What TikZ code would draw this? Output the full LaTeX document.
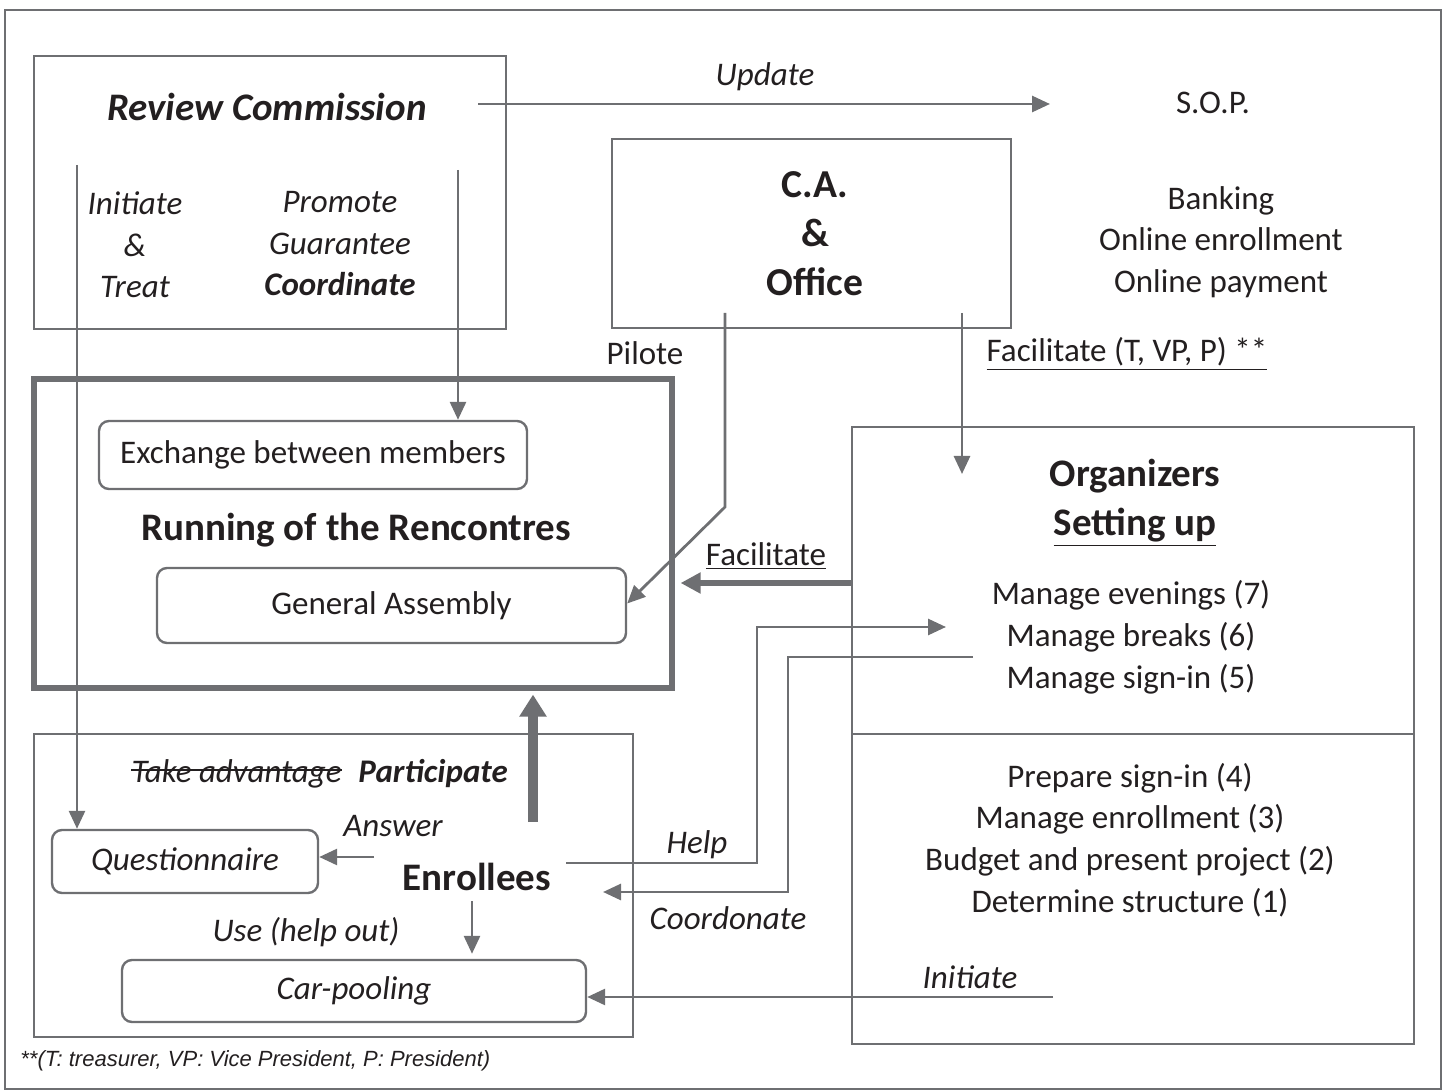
\documentclass[tikz,border=0pt]{standalone}
\usepackage{fontspec}
\setmainfont{Carlito}
\newfontfamily\notefont{Liberation Sans}
\usetikzlibrary{arrows.meta,positioning}
\definecolor{linegray}{RGB}{110,111,114}
\definecolor{inkblack}{RGB}{35,31,32}

\tikzset{
  frame/.style={draw=linegray, line width=1.2pt, inner sep=0pt},
  roundbox/.style={frame, rounded corners=5pt},
  txt/.style={text=inkblack, font=\fontsize{16.5}{20.75}\selectfont, align=center, inner sep=0pt},
  ittxt/.style={txt, font=\fontsize{16.5}{20.75}\selectfont\itshape},
  title/.style={txt, font=\fontsize{19.5}{24.5}\selectfont\bfseries},
  link/.style={draw=linegray, line width=1.4pt, -{Triangle[length=9pt,width=8pt]}},
  fatlink/.style={draw=linegray, line width=2.8pt, -{Triangle[length=10pt,width=10pt]}},
  uplink/.style={draw=linegray, line width=5pt, -{Triangle[length=11pt,width=13pt]}},
}

\begin{document}
\begin{tikzpicture}[x=0.5pt, y=-0.5pt]
\useasboundingbox (0,0) rectangle (1447,1091);

% frames
\node[frame, minimum width=718pt, minimum height=539.5pt] (outer) at (723,549.5) {};
\node[frame, minimum width=236pt, minimum height=136.5pt] (rc) at (270,192.5) {};
\node[frame, minimum width=199.5pt, minimum height=94.5pt] (ca) at (811.5,233.5) {};
\node[frame, line width=2.6pt, minimum width=319pt, minimum height=154.5pt] (run) at (353,533.5) {};
\node[frame, minimum width=281pt, minimum height=308.5pt] (org) at (1133,735.5) {};
\draw[linegray, line width=1.2pt] (org.west |- 0,734) -- (org.east |- 0,734);
\node[frame, minimum width=299.5pt, minimum height=151.5pt] (enr) at (333.5,885.5) {};

% review commission
\node[title, font=\fontsize{19.5}{21}\selectfont\bfseries\itshape] (rctitle) at (267,107) {Review Commission};
\node[ittxt] (treat) at (135,245) {Initiate\\\&\\Treat};
\node[ittxt] (promote) at (340,244) {Promote\\Guarantee\\\textbf{Coordinate}};

% top right
\node[ittxt] (update) at (765,77) {Update};
\node[txt] (sop) at (1213,103) {S.O.P.};
\node[title, font=\fontsize{19.8}{24.5}\selectfont\bfseries] (catitle) at (815,234) {C.A.\\\&\\Office};
\node[txt] (bank) at (1221,242) {Banking\\Online enrollment\\Online payment};
\node[txt] (pilote) at (645,353) {Pilote};
\node[txt] (facilT) at (1127,354) {\underline{Facilitate (T, VP, P) **}};

% running of the rencontres
\node[roundbox, txt, minimum width=214pt, minimum height=34pt] (exch) at (313,455) {Exchange between members};
\node[title] (runtitle) at (356,530) {Running of the Rencontres};
\node[roundbox, txt, minimum width=234.5pt, minimum height=37.5pt] (ga) at (391.5,605.5) {General Assembly};

% organizers
\node[title] (orgtitle) at (1135,503) {Organizers\\\underline{Setting up}};
\node[txt, font=\fontsize{16.5}{21}\selectfont] (manage) at (1131,637) {Manage evenings (7)\\Manage breaks (6)\\Manage sign-in (5)};
\node[txt, font=\fontsize{16.5}{20.9}\selectfont] (prep) at (1130,840) {Prepare sign-in (4)\\Manage enrollment (3)\\Budget and present project (2)\\Determine structure (1)};
\node[txt] (facil) at (766,556) {\underline{Facilitate}};

% enrollees
\node[ittxt, anchor=base east] (take) at (342,782) {Take advantage};
\draw[inkblack, line width=0.9pt] ([yshift=-5.5pt]take.north west) -- ([yshift=-5.5pt]take.north east);
\node[ittxt, anchor=base west, font=\fontsize{16.5}{20.75}\selectfont\bfseries\itshape] (part) at (358,782) {Participate};
\node[roundbox, ittxt, minimum width=133pt, minimum height=31.5pt] (quest) at (185,861.5) {Questionnaire};
\node[ittxt] (answer) at (393,826) {Answer};
\node[title] (enrol) at (477,877) {Enrollees};
\node[ittxt] (useho) at (306,932) {Use (help out)};
\node[roundbox, ittxt, minimum width=232pt, minimum height=31pt] (car) at (354,991) {Car-pooling};
\node[ittxt] (help) at (697,845) {Help};
\node[ittxt] (coord) at (728,918) {Coordonate};
\node[ittxt] (initiate) at (970,977) {Initiate};
\node[txt, anchor=west, font=\notefont\fontsize{11}{13}\selectfont\itshape] (note) at (20,1061) {**(T: treasurer, VP: Vice President, P: President)};

% connectors
\coordinate (updS) at (478,104);
\coordinate (updE) at (1050,104);
\coordinate (rcL) at (77,165);
\coordinate (rcR) at (458,170);
\coordinate (pilS) at (725,313);
\coordinate (facS) at (962,313);
\coordinate (facE) at (962,474);
\coordinate (helpS) at (566,863);
\coordinate (helpE) at (946,627);
\coordinate (coordS) at (973,657);
\coordinate (coordE) at (603,892);
\coordinate (ansS) at (374,857);
\coordinate (useS) at (472,901);
\coordinate (iniS) at (1053,997);
\coordinate (upS) at (533,822);

\draw[link] (updS) -- (updE);
\draw[link] (rcL) -- (rcL |- quest.north);
\draw[link] (rcR) -- (rcR |- exch.north);
\draw[link] (pilS) -- ++(0,194) -- ([yshift=1pt]ga.east);
\draw[link] (facS) -- (facE);
\draw[fatlink] (org.west |- 0,583) -- ([xshift=3pt]run.east |- 0,583);
\draw[uplink] (upS) -- ([yshift=-2pt]upS |- run.south);
\draw[link] (helpS) -- (757,863) -- (757,627) -- (helpE);
\draw[link] (coordS) -- (788,657) -- (788,892) -- (coordE);
\draw[link] (ansS) -- (quest.east |- ansS);
\draw[link, shorten >=2.5pt] (useS) -- (useS |- car.north);
\draw[link] (iniS) -- (car.east |- iniS);
\end{tikzpicture}
\end{document}
